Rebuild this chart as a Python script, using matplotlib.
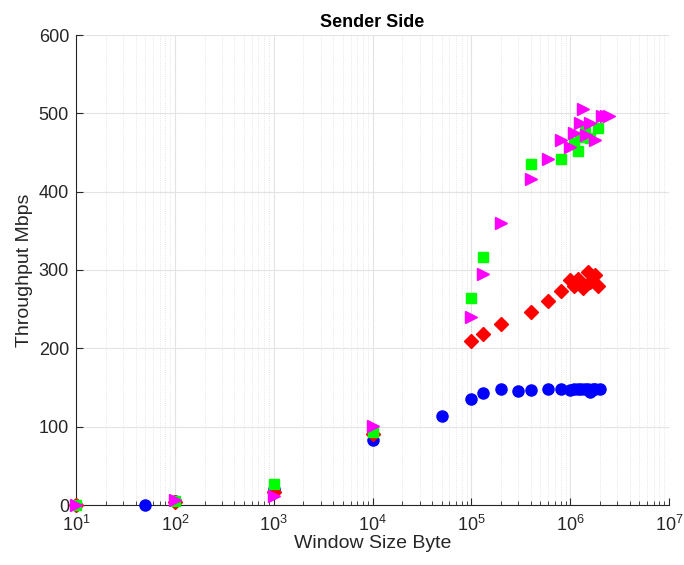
import matplotlib
matplotlib.use("Agg")
import matplotlib.pyplot as plt
from matplotlib.ticker import LogLocator, NullFormatter

plt.rcParams['font.family'] = ['Liberation Sans', 'DejaVu Sans']

# window size (bytes) and throughput (Mbps) per series
blue_x = [10, 50, 100, 1000, 1e4, 5e4, 1e5, 1.3e5, 2e5, 3e5, 4e5, 6e5, 8e5,
          1e6, 1.1e6, 1.2e6, 1.3e6, 1.4e6, 1.5e6, 1.6e6, 1.7e6, 1.8e6, 2e6]
blue_y = [0.5, 0.5, 5, 21, 83, 113, 135, 143, 148, 146, 147, 148, 148,
          147, 148, 148, 148, 148, 148, 144, 148, 148, 148]

red_x = [10, 100, 1000, 1e4, 1e5, 1.3e5, 2e5, 4e5, 6e5, 8e5, 1e6, 1.1e6,
         1.2e6, 1.35e6, 1.5e6, 1.6e6, 1.8e6, 1.9e6]
red_y = [0.5, 4, 17, 91, 210, 218, 231, 246, 260, 273, 287, 279,
         289, 277, 298, 285, 294, 279]

green_x = [10, 100, 1000, 1e4, 1e5, 1.3e5, 4e5, 8e5, 1.1e6, 1.2e6, 1.25e6,
           1.4e6, 1.6e6, 1.9e6]
green_y = [0.5, 5, 27, 93, 264, 316, 435, 442, 462, 452, 470,
           481, 469, 481]

magenta_x = [10, 100, 1000, 1e4, 1e5, 1.3e5, 2e5, 4e5, 6e5, 8e5, 1e6, 1.1e6,
             1.25e6, 1.35e6, 1.45e6, 1.6e6, 1.8e6, 2.1e6, 2.3e6, 2.5e6]
magenta_y = [0.5, 7, 12, 101, 240, 295, 360, 416, 442, 466, 457, 475,
             488, 505, 472, 488, 466, 497, 497, 497]

x_ticks = [1e1, 1e2, 1e3, 1e4, 1e5, 1e6, 1e7]
y_ticks = [0, 100, 200, 300, 400, 500, 600]

fig = plt.figure(figsize=(6.84, 5.65), dpi=100)
ax = fig.add_axes([76 / 684, 60 / 565, 593 / 684, 470 / 565])

ax.plot(blue_x, blue_y, 'o', color='blue', ms=8, mec='blue', clip_on=False, zorder=3)
ax.plot(red_x, red_y, 'D', color='red', ms=7, mec='red', clip_on=False, zorder=3)
ax.plot(green_x, green_y, 's', color='#00ff00', ms=7, mec='#00ff00', clip_on=False, zorder=3)
ax.plot(magenta_x, magenta_y, '>', color='magenta', ms=9, mec='magenta', clip_on=False, zorder=3)

ax.set_xscale('log')
ax.set_xlim(10, 1e7)
ax.set_ylim(0, 600)
ax.set_xticks(x_ticks)
ax.set_yticks(y_ticks)
ax.xaxis.set_minor_locator(LogLocator(base=10, subs=range(2, 10), numticks=20))
ax.xaxis.set_minor_formatter(NullFormatter())

ax.grid(True, which='major', color='#e3e3e3', linewidth=0.8, linestyle='-')
ax.grid(True, which='minor', axis='x', color='#dedede', linewidth=0.6, linestyle=':')
ax.set_axisbelow(True)

for s in ['top', 'right']:
    ax.spines[s].set_visible(False)
for s in ['left', 'bottom']:
    ax.spines[s].set_color('#262626')
    ax.spines[s].set_linewidth(0.8)

ax.tick_params(which='both', direction='in', colors='#262626', labelsize=13)
ax.tick_params(axis='x', which='major', pad=7)
ax.tick_params(axis='y', which='major', pad=5)
ax.tick_params(which='major', length=5)
ax.tick_params(which='minor', length=3)

ax.set_title('Sender Side', fontsize=13, fontweight='bold', pad=6)
ax.set_xlabel('Window Size Byte', fontsize=14, color='#262626', labelpad=0)
ax.set_ylabel('Throughput Mbps', fontsize=14, color='#262626', labelpad=4)

fig.savefig('out.png', dpi=100)
